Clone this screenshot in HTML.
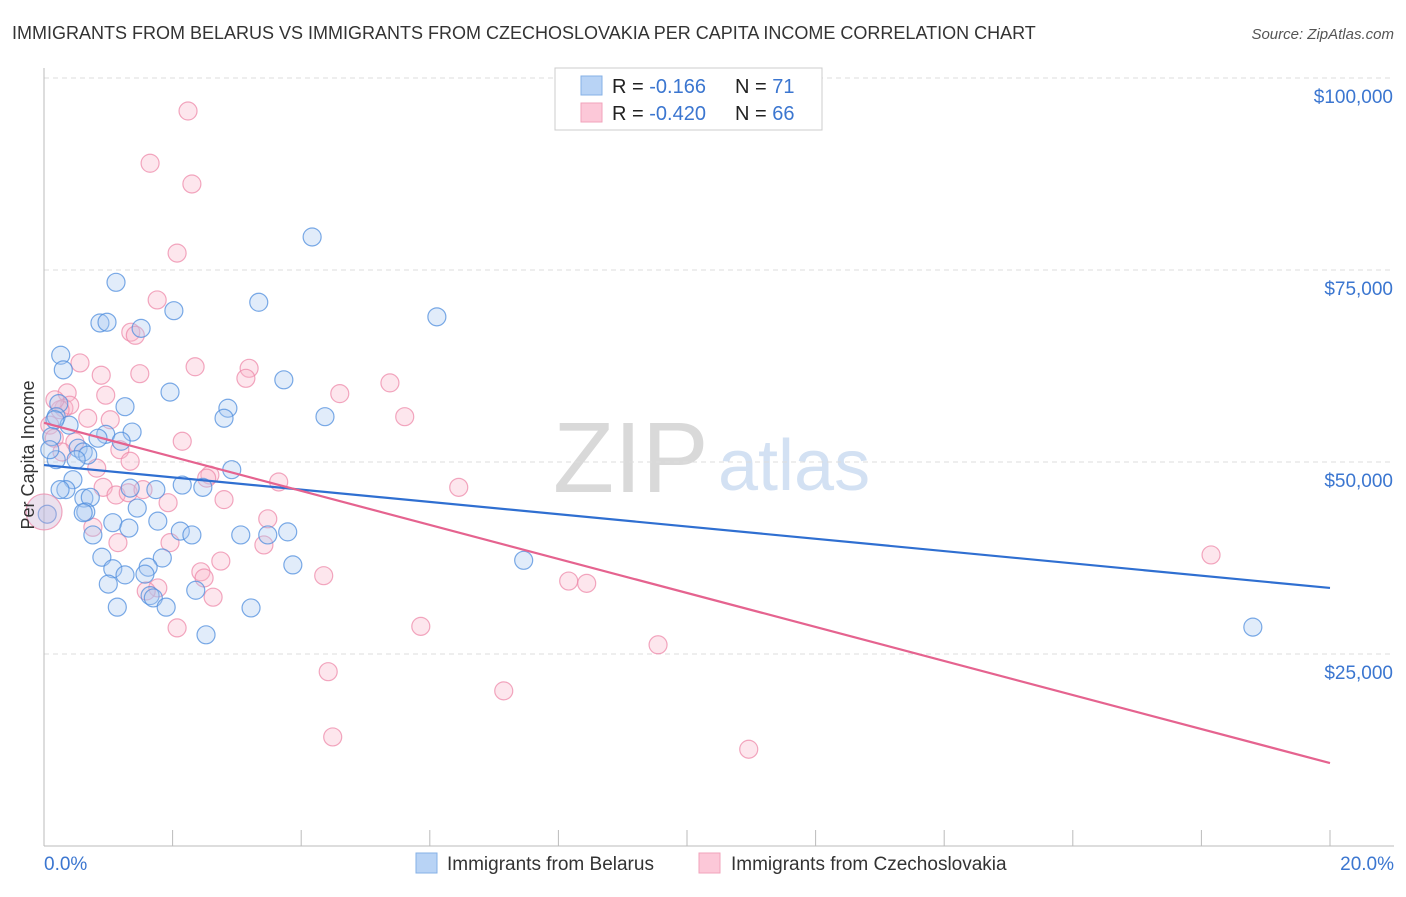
<!DOCTYPE html>
<html><head><meta charset="utf-8">
<style>
body{margin:0;background:#fff;font-family:"Liberation Sans",sans-serif;}
svg text{font-family:"Liberation Sans",sans-serif;}
</style></head>
<body>
<svg id="chart" width="1406" height="892" xmlns="http://www.w3.org/2000/svg">
<text x="12" y="39" font-size="18" fill="#333">IMMIGRANTS FROM BELARUS VS IMMIGRANTS FROM CZECHOSLOVAKIA PER CAPITA INCOME CORRELATION CHART</text>
<text x="1394" y="39" font-size="15" fill="#555" text-anchor="end" font-style="italic">Source: ZipAtlas.com</text>
<text x="553" y="492" font-size="100" fill="#d9d9d9" font-family="Liberation Serif">ZIP</text>
<text x="718" y="490" font-size="72" fill="#d3e1f3">atlas</text>
<g id="grid"></g>
<g id="axes"></g>
<g id="points"></g>
<g id="trends"></g>
<text x="34" y="455" font-size="18" fill="#333" text-anchor="middle" transform="rotate(-90 34 455)">Per Capita Income</text>
<g>
<rect x="555" y="68" width="267" height="62" fill="#fff" stroke="#ccc"/>
<rect x="581" y="76" width="21" height="19" fill="#b8d3f5" stroke="#86b0e6"/>
<rect x="581" y="103" width="21" height="19" fill="#fcc8d8" stroke="#f2a3bb"/>
<text x="612" y="93" font-size="20" fill="#222">R = <tspan fill="#3b76d0"> -0.166</tspan></text>
<text x="735" y="93" font-size="20" fill="#222">N = <tspan fill="#3b76d0"> 71</tspan></text>
<text x="612" y="120" font-size="20" fill="#222">R = <tspan fill="#3b76d0">-0.420</tspan></text>
<text x="735" y="120" font-size="20" fill="#222">N = <tspan fill="#3b76d0">66</tspan></text>
</g>
<g>
<rect x="416" y="853" width="21" height="20" fill="#b8d3f5" stroke="#86b0e6"/>
<text x="447" y="870" font-size="19" fill="#333">Immigrants from Belarus</text>
<rect x="699" y="853" width="21" height="20" fill="#fcc8d8" stroke="#f2a3bb"/>
<text x="731" y="870" font-size="19" fill="#333">Immigrants from Czechoslovakia</text>
</g>
</svg>
<script>
const yTicks=[25000,50000,75000,100000];
const yTickLabels=["$25,000","$50,000","$75,000","$100,000"];
const xTickLabels=["0.0%","20.0%"];
const belarusX=[4.17,1.12,3.34,2.02,6.11,0.87,0.98,1.51,0.26,0.30,3.73,1.96,1.26,0.23,2.86,2.80,4.37,0.19,0.39,1.37,0.96,0.84,0.12,1.20,2.92,0.53,0.61,0.68,0.19,0.50,0.45,0.34,0.62,0.72,2.15,2.47,1.74,1.34,1.45,0.65,0.61,1.07,1.77,1.32,0.76,2.12,2.30,3.06,3.48,3.79,0.90,1.84,1.07,1.26,1.62,1.57,3.87,7.46,1.00,2.36,1.65,1.70,1.14,1.90,3.22,2.52,18.80,0.05,0.09,0.25,0.17];
const belarusY=[79.3,73.4,70.8,69.7,68.9,68.1,68.2,67.4,63.9,62.0,60.7,59.1,57.2,57.6,57.0,55.7,55.9,55.9,54.8,53.9,53.6,53.1,53.3,52.7,49.0,51.8,51.3,50.9,50.3,50.3,47.7,46.4,45.3,45.4,47.0,46.7,46.4,46.6,44.0,43.5,43.4,42.1,42.3,41.4,40.5,41.0,40.5,40.5,40.5,40.9,37.6,37.5,36.1,35.3,36.3,35.4,36.6,37.2,34.1,33.3,32.6,32.3,31.1,31.1,31.0,27.5,28.5,43.2,51.6,46.4,55.5];
const czechX=[2.24,1.65,2.30,2.07,1.76,1.35,1.42,0.56,0.89,1.49,2.35,3.19,3.14,5.38,0.36,4.60,0.96,0.31,0.40,0.68,1.03,5.61,0.09,0.16,0.48,2.15,0.28,0.82,1.18,2.58,2.53,3.65,6.45,0.92,1.12,1.31,1.54,1.93,2.80,0.76,3.48,1.15,1.96,3.42,2.75,2.44,2.49,4.35,8.16,8.44,1.77,1.59,2.63,2.07,5.86,9.55,4.42,7.15,4.49,10.96,18.15,1.34,0.25,0.17];
const czechY=[95.7,88.9,86.2,77.2,71.1,66.9,66.5,62.9,61.3,61.5,62.4,62.2,60.9,60.3,59.0,58.9,58.7,57.0,57.4,55.7,55.5,55.9,54.8,53.1,52.6,52.7,51.3,49.2,51.6,48.3,47.9,47.4,46.7,46.7,45.7,46.0,46.4,44.7,45.1,41.5,42.6,39.5,39.5,39.2,37.1,35.7,34.9,35.2,34.5,34.2,33.6,33.2,32.4,28.4,28.6,26.2,22.7,20.2,14.2,12.6,37.9,50.1,56.8,58.1];
const bigX=[0.0];
const bigY=[43.5];
const belarusTrend=[49.6,33.6];
const czechTrend=[55.1,10.8];

const NS="http://www.w3.org/2000/svg";
const X0=44,X1=1330;
function xs(p){return X0+(p/20)*(X1-X0);}
function ys(v){return 654-(v-25000)*192/25000;}
function mk(tag,attrs,parent){const e=document.createElementNS(NS,tag);for(const k in attrs)e.setAttribute(k,attrs[k]);document.getElementById(parent).appendChild(e);return e;}

yTicks.forEach((t,i)=>{
  const l=mk('line',{x1:44,x2:1394,y1:ys(t),y2:ys(t),stroke:'#ddd','stroke-dasharray':'5,4'},'grid');
  
  
  const tx=mk('text',{x:1393,y:ys(t)+25,'font-size':19,fill:'#3b76d0','text-anchor':'end'},'grid');
  tx.textContent=yTickLabels[i];
  
  
});
const ax=mk('line',{x1:44,x2:44,y1:68,y2:846,stroke:'#bbb'},'axes');


const bx=mk('line',{x1:44,x2:1394,y1:846,y2:846,stroke:'#bbb'},'axes');


for(let i=0;i<=10;i++){
  const t=mk('line',{x1:xs(i*2),x2:xs(i*2),y1:830,y2:846,stroke:'#bbb'},'axes');
  
  
}
xTickLabels.forEach((s,i)=>{
  const t=mk('text',{x:i==0?44:1394,y:870,'font-size':19,fill:'#3b76d0','text-anchor':i==0?'start':'end'},'axes');
  t.textContent=s;
  
  
});
function dots(X,Y,fill,stroke,name,r){
  X.forEach((x,i)=>{
    const c=mk('circle',{cx:xs(x),cy:ys(Y[i]*1000),r:r,fill:fill,'fill-opacity':0.35,stroke:stroke,'stroke-opacity':0.75,'stroke-width':1.2},'points');
    
    
  });
}
dots(czechX,czechY,'#f9b6ca','#ee8aa9','czechoslovakia-point',9);
dots(belarusX,belarusY,'#a9c8f0','#4f8ddd','belarus-point',9);
dots(bigX,bigY,'#c9a9cf','#ee8aa9','large-overlap-point',18);
function trend(T,color,name){
  const l=mk('line',{x1:xs(0),y1:ys(T[0]*1000),x2:xs(20),y2:ys(T[1]*1000),stroke:color,'stroke-width':2.2},'trends');
  
  
}
trend(belarusTrend,'#2f6fd1','belarus-trend-line');
trend(czechTrend,'#e5638f','czechoslovakia-trend-line');
</script>
</body></html>
